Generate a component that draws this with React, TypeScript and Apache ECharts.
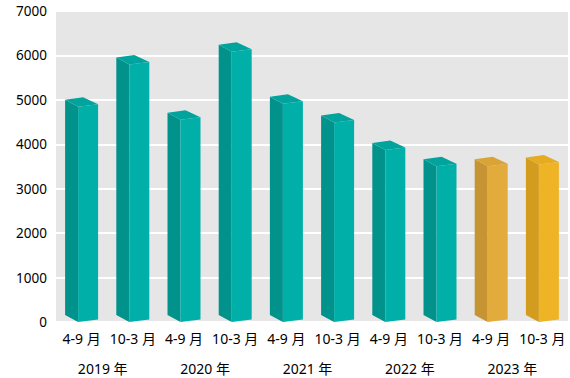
import React, { useEffect, useRef } from "react";
import * as echarts from "echarts";

const periods = ["4-9 月", "10-3 月", "4-9 月", "10-3 月", "4-9 月", "10-3 月", "4-9 月", "10-3 月", "4-9 月", "10-3 月"];
const years = ["2019 年", "2020 年", "2021 年", "2022 年", "2023 年"];
const values = [4950, 5900, 4660, 6190, 5020, 4600, 3980, 3610, 3610, 3650];
const yTicks = { min: 0, max: 7000, interval: 1000 };

const TEAL = { left: "#00928b", front: "#00afa8", top: "#00a49c" };
const GOLD1 = { left: "#c69432", front: "#e3ab3b", top: "#d9a336" };
const GOLD2 = { left: "#d39c1e", front: "#efb326", top: "#e6ab22" };
const barColors = [TEAL, TEAL, TEAL, TEAL, TEAL, TEAL, TEAL, TEAL, GOLD1, GOLD2];

const FONT = "'Noto Sans', 'Noto Sans CJK JP', sans-serif";

export default function App() {
  const ref = useRef<HTMLDivElement>(null);
  useEffect(() => {
    if (!ref.current) return;
    const chart = echarts.init(ref.current, null, { renderer: "svg" });
    chart.setOption({
      animation: false,
      grid: {
        left: 56,
        right: 2,
        top: 11,
        bottom: 56,
        show: true,
        backgroundColor: "#e6e6e6",
        borderWidth: 0,
        containLabel: false,
      },
      xAxis: [
        {
          type: "category",
          data: periods,
          axisLine: { show: false },
          axisTick: { show: false },
          splitLine: { show: false },
          axisLabel: { fontSize: 14, color: "#000", fontFamily: FONT, margin: 9, interval: 0 },
        },
        {
          type: "category",
          data: years,
          position: "bottom",
          offset: 30,
          axisLine: { show: false },
          axisTick: { show: false },
          splitLine: { show: false },
          axisLabel: { fontSize: 14, color: "#000", fontFamily: FONT, margin: 9, interval: 0, padding: [0, 9, 0, 0] },
        },
      ],
      yAxis: {
        type: "value",
        min: yTicks.min,
        max: yTicks.max,
        interval: yTicks.interval,
        axisLine: { show: false },
        axisTick: { show: false },
        splitLine: { show: true, lineStyle: { color: "#ffffff", width: 2 } },
        axisLabel: {
          fontSize: 13.5,
          color: "#000",
          fontFamily: FONT,
          margin: 9,
          padding: [8, 0, 0, 0],
          formatter: (v: number) => String(v),
        },
      },
      series: [
        {
          type: "custom",
          xAxisIndex: 0,
          yAxisIndex: 0,
          encode: { x: 0, y: 1 },
          data: values.map((v, i) => [i, v]),
          renderItem: (params: any, api: any) => {
            const i = api.value(0);
            const v = api.value(1);
            const [cx, cy] = api.coord([i, v]);
            const y0 = api.coord([i, 0])[1];
            const s = api.size([1, 0])[0] / 51.2;
            const L = [cx - 16.5 * s, cy - 2.25];
            const B = [cx + 1.5 * s, cy - 4.75];
            const R = [cx + 16.5 * s, cy + 2.25];
            const F = [cx - 3.5 * s, cy + 4.75];
            const Lb = [L[0], y0 - 7];
            const Fb = [F[0], y0];
            const Rb = [R[0], y0 - 2.5];
            const c = barColors[i];
            return {
              type: "group",
              children: [
                { type: "polygon", shape: { points: [L, F, Fb, Lb] }, style: { fill: c.left } },
                { type: "polygon", shape: { points: [F, R, Rb, Fb] }, style: { fill: c.front } },
                { type: "polygon", shape: { points: [L, B, R, F] }, style: { fill: c.top } },
              ],
            };
          },
        },
      ],
    });
    return () => chart.dispose();
  }, []);
  return (
    <div
      ref={ref}
      style={{ position: "fixed", left: 0, top: 0, width: 570, height: 378, background: "#ffffff" }}
    />
  );
}
